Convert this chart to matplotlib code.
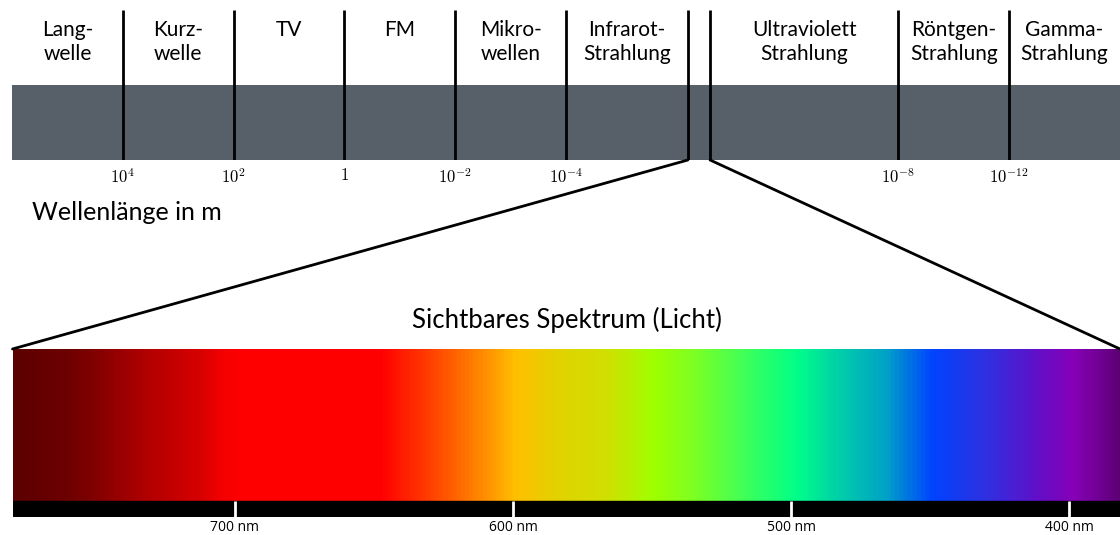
import numpy as np
import matplotlib
matplotlib.use("Agg")
import matplotlib.pyplot as plt
from matplotlib.colors import LinearSegmentedColormap
from matplotlib.patches import ConnectionPatch

plt.rcParams['font.family'] = ['Lato', 'DejaVu Sans']
plt.rcParams['mathtext.fontset'] = 'cm'

# --- data ---
# band labels of the electromagnetic spectrum (position in band units)
band_labels = ["Lang-\nwelle", "Kurz-\nwelle", "TV", "FM", "Mikro-\nwellen",
               "Infrarot-\nStrahlung", "Ultraviolett\nStrahlung",
               "Röntgen-\nStrahlung", "Gamma-\nStrahlung"]
band_centers = [0.5, 1.5, 2.5, 3.5, 4.5, 5.55, 7.15, 8.5, 9.5]
band_edges = [1, 2, 3, 4, 5, 6.1, 6.3, 8, 9]
wl_ticks = [1, 2, 3, 4, 5, 8, 9]
wl_labels = [r"$10^{4}$", r"$10^{2}$", r"$1$", r"$10^{-2}$", r"$10^{-4}$",
             r"$10^{-8}$", r"$10^{-12}$"]

# visible spectrum colour stops (wavelength in nm)
stop_nm = [780, 759, 733, 713, 705, 698, 648, 630, 614, 599, 584, 566,
           550, 536, 518, 498, 483, 465, 449, 429, 411, 398, 380]
stop_col = ["#5c0000", "#700000", "#b00000", "#d80000", "#f50000", "#ff0000",
            "#ff0000", "#ff4000", "#ff8000", "#ffc000", "#e2d200", "#d0e000",
            "#a0ff00", "#80ff20", "#44ff55", "#00ff88", "#00d0a8", "#00a0c8",
            "#0044ff", "#3030e0", "#6010c8", "#8800b8", "#5a0070"]
nm_ticks = [700, 600, 500, 400]

W, H = 1120, 535
fig = plt.figure(figsize=(W / 100, H / 100), dpi=100)

# top band: px 12..1120 horizontally, 10..160 vertically
ax = fig.add_axes([12 / W, 1 - 160 / H, 1108 / W, 150 / H])
ax.set_xlim(0, 10)
ax.set_ylim(0, 1)
ax.barh(0.25, 10, height=0.5, left=0, color="#575f69")
ax.vlines(band_edges, 0, 1, color="black", lw=2)
for lab, xc in zip(band_labels, band_centers):
    ax.text(xc, 0.93, lab, ha="center", va="top", fontsize=15, linespacing=1.2)
ax.set_xticks(wl_ticks, wl_labels, fontsize=12)
ax.tick_params(axis="x", length=0, pad=5)
ax.set_yticks([])
for s in ax.spines.values():
    s.set_visible(False)

fig.text(32 / W, 1 - 212 / H, "Wellenlänge in m", fontsize=18, va="center", ha="left")
fig.text(567 / W, 1 - 320 / H, "Sichtbares Spektrum (Licht)", fontsize=18.5,
         va="center", ha="center")

# visible spectrum: px 12.5..1120, 349..517
axs = fig.add_axes([12.5 / W, 1 - 517 / H, 1107.5 / W, 168 / H])
xl, xr = 780, 381.7
axs.set_xlim(xl, xr)
axs.set_ylim(0, 168)
pos = [(stop_nm[0] - n) / (stop_nm[0] - stop_nm[-1]) for n in stop_nm]
cmap = LinearSegmentedColormap.from_list("vis", list(zip(pos, stop_col)))
grad = np.linspace(0, 1, 800)[None, :]
axs.imshow(grad, cmap=cmap, aspect="auto", extent=(stop_nm[0], stop_nm[-1], 16, 168),
           interpolation="bilinear")
axs.axhspan(0, 16, color="black")
axs.vlines(nm_ticks, 0, 16, color="white", lw=2)
axs.set_xticks(nm_ticks, [f"{t} nm" for t in nm_ticks], fontsize=10,
               family=["Open Sans", "DejaVu Sans"])
axs.tick_params(axis="x", length=0, pad=2)
axs.set_yticks([])
for s in axs.spines.values():
    s.set_visible(False)

# zoom lines from band to spectrum
for xa, xb in [(6.1, xl), (6.3, xr)]:
    con = ConnectionPatch(xyA=(xa, 0), coordsA=ax.transData,
                          xyB=(xb, 168), coordsB=axs.transData,
                          color="black", lw=2)
    fig.add_artist(con)

fig.savefig("out.png", dpi=100)
